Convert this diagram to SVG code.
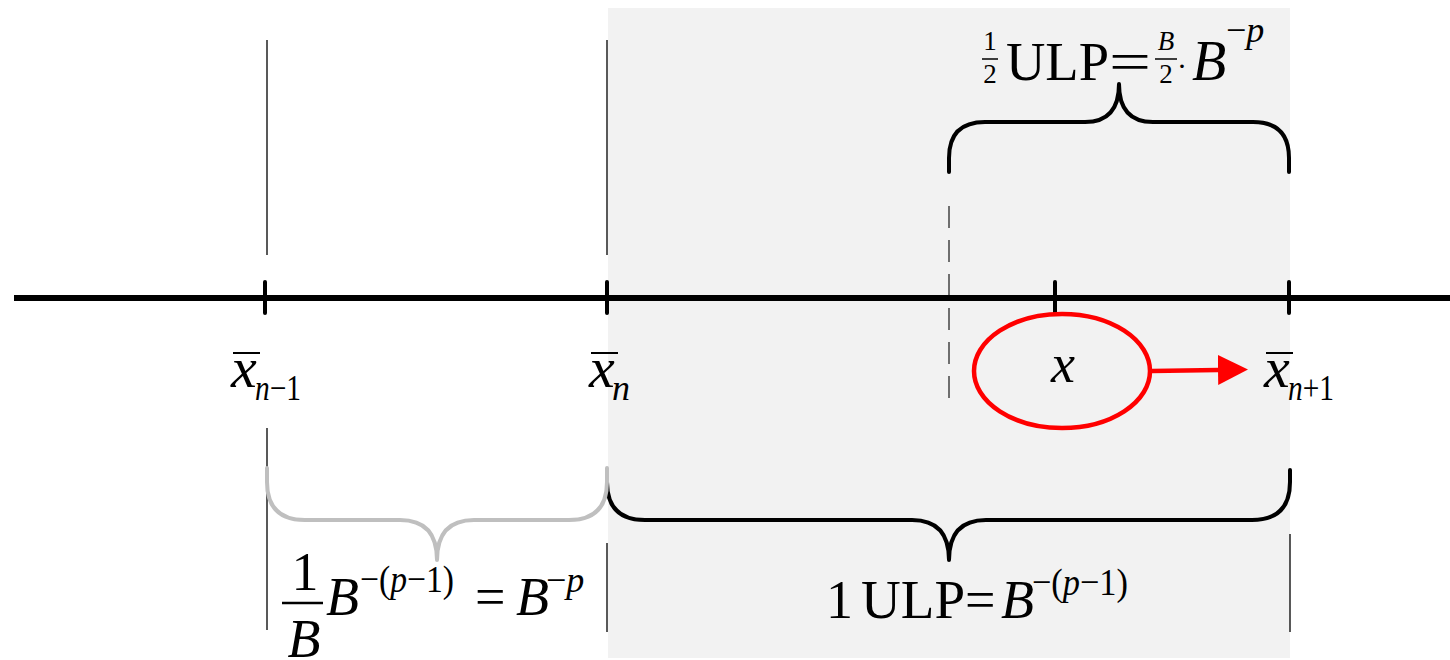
<svg xmlns="http://www.w3.org/2000/svg" width="1450" height="660" viewBox="0 0 1450 660">
<style>
.t{font-family:"Liberation Serif","Times New Roman",serif;fill:#000}
.i{font-style:italic}
.thin{stroke:#222;stroke-width:1.5;fill:none}
.tick{stroke:#000;stroke-width:4;stroke-linecap:round}
.bar{stroke:#000;stroke-width:2}
.brace{fill:none;stroke:#000;stroke-width:4;stroke-linecap:round;stroke-linejoin:round}
</style>
<defs>
<marker id="ah" markerUnits="userSpaceOnUse" markerWidth="30" markerHeight="30" viewBox="0 0 30 30" refX="0" refY="15" orient="auto">
<path d="M0,0 L30,15 L0,30 z" fill="#ff0000"/>
</marker>
</defs>
<rect width="1450" height="660" fill="#fff"/>
<rect id="ulp-region" x="608" y="8" width="682" height="650" fill="#f2f2f2"/>

<g id="guides">
<line class="thin" x1="267" y1="40" x2="267" y2="255"/>
<line class="thin" x1="267" y1="428" x2="267" y2="630"/>
<line class="thin" x1="607" y1="40" x2="607" y2="255"/>
<line class="thin" x1="607" y1="543" x2="607" y2="632"/>
<line class="thin" x1="1290" y1="534" x2="1290" y2="632"/>
<line x1="949" y1="206" x2="949" y2="400" stroke="#444" stroke-width="1.5" stroke-dasharray="22 12"/>
</g>

<g id="axis">
<line x1="14" y1="298" x2="1450" y2="298" stroke="#000" stroke-width="6"/>
<line class="tick" x1="265" y1="282" x2="265" y2="313"/>
<line class="tick" x1="607" y1="282" x2="607" y2="313"/>
<line class="tick" x1="1055" y1="282" x2="1055" y2="313"/>
<line class="tick" x1="1289" y1="282" x2="1289" y2="313"/>
</g>

<g id="braces">
<path class="brace" d="M949,172 L949,158 Q949,122 985,122 L1085,122 Q1119,122 1119,84 Q1119,122 1153,122 L1253,122 Q1289,122 1289,158 L1289,172"/>
<path class="brace" d="M607,470 L607,482 Q607,520 645,520 L912,520 Q949,520 949,560 Q949,520 986,520 L1252,520 Q1290,520 1290,482 L1290,470"/>
<path class="brace" style="stroke:#bfbfbf" d="M267,468 L267,482 Q267,520 305,520 L400,520 Q437,520 437,560 Q437,520 474,520 L569,520 Q607,520 607,482 L607,468"/>
</g>

<g id="node-xn-1">
<text class="t i" x="231" y="387" font-size="58">x</text>
<line class="bar" x1="233" y1="353" x2="260" y2="353"/>
<text class="t" x="255" y="400" font-size="36" textLength="46" lengthAdjust="spacingAndGlyphs"><tspan class="i">n</tspan>−1</text>
</g>
<g id="node-xn">
<text class="t i" x="589" y="387" font-size="58">x</text>
<line class="bar" x1="591" y1="353" x2="618" y2="353"/>
<text class="t i" x="612" y="400" font-size="36">n</text>
</g>
<g id="node-xn+1">
<text class="t i" x="1264" y="387" font-size="58">x</text>
<line class="bar" x1="1266" y1="353" x2="1293" y2="353"/>
<text class="t" x="1288" y="400" font-size="36" textLength="46" lengthAdjust="spacingAndGlyphs"><tspan class="i">n</tspan>+1</text>
</g>

<g id="node-x">
<ellipse cx="1062" cy="371" rx="88" ry="57" fill="none" stroke="#ff0000" stroke-width="4.5"/>
<text class="t i" x="1051" y="382" font-size="54">x</text>
</g>

<g id="connectors">
<line x1="1152" y1="371" x2="1218" y2="370" stroke="#ff0000" stroke-width="4.5" marker-end="url(#ah)"/>
</g>

<g id="label-half-ulp">
<text class="t" x="990" y="50" font-size="27" text-anchor="middle">1</text>
<line x1="982" y1="59" x2="998" y2="59" stroke="#000" stroke-width="1.5"/>
<text class="t" x="990" y="83" font-size="27" text-anchor="middle">2</text>
<text class="t" x="1006" y="80" font-size="54" textLength="103" lengthAdjust="spacingAndGlyphs">ULP</text>
<text class="t" x="1109" y="80" font-size="54" textLength="42" lengthAdjust="spacingAndGlyphs">=</text>
<text class="t i" x="1166" y="50" font-size="27" text-anchor="middle">B</text>
<line x1="1155" y1="59" x2="1177" y2="59" stroke="#000" stroke-width="1.5"/>
<text class="t" x="1166" y="83" font-size="27" text-anchor="middle">2</text>
<text class="t" x="1177" y="76" font-size="30">·</text>
<text class="t i" x="1192" y="80" font-size="56">B</text>
<text class="t" x="1226" y="42" font-size="36">−<tspan class="i">p</tspan></text>
</g>

<g id="label-ulp">
<text class="t" x="826" y="618" font-size="54">1</text>
<text class="t" x="861" y="618" font-size="54" textLength="104" lengthAdjust="spacingAndGlyphs">ULP</text>
<text class="t" x="965" y="618" font-size="54">=</text>
<text class="t i" x="1001" y="618" font-size="54">B</text>
<text class="t" x="1032" y="595" font-size="38" textLength="96" lengthAdjust="spacingAndGlyphs">−(<tspan class="i">p</tspan>−1)</text>
</g>

<g id="label-gap">
<text class="t" x="305" y="590" font-size="54" text-anchor="middle">1</text>
<line x1="282" y1="603" x2="323" y2="603" stroke="#000" stroke-width="2.5"/>
<text class="t i" x="304" y="657" font-size="54" text-anchor="middle">B</text>
<text class="t i" x="326" y="615" font-size="54">B</text>
<text class="t" x="360" y="592" font-size="38" textLength="94" lengthAdjust="spacingAndGlyphs">−(<tspan class="i">p</tspan>−1)</text>
<text class="t" x="475" y="615" font-size="54">=</text>
<text class="t i" x="516" y="615" font-size="54">B</text>
<text class="t" x="546" y="592" font-size="36">−<tspan class="i">p</tspan></text>
</g>
</svg>
